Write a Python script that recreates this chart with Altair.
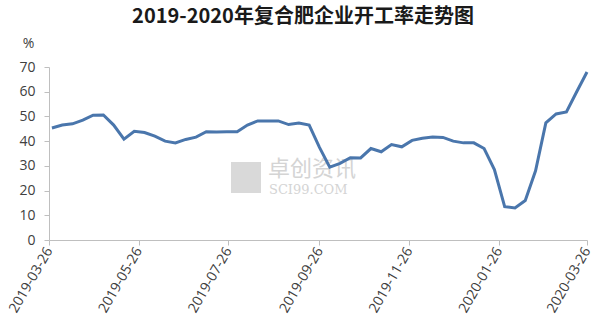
import altair as alt
import pandas as pd

# weekly dates (last one 2020-03-26)
end = pd.Timestamp("2020-03-26")
dates = [(end - pd.Timedelta(days=7 * (52 - i))).strftime("%Y-%m-%d") for i in range(53)]
values = [45.3, 46.5, 47.0, 48.5, 50.5, 50.6, 46.5, 40.8, 44.0, 43.5,
          42.0, 40.0, 39.3, 40.7, 41.6, 43.8, 43.7, 43.8, 43.8, 46.5,
          48.2, 48.2, 48.2, 46.7, 47.3, 46.5, 37.5, 29.5, 31.0, 33.3,
          33.2, 37.0, 35.7, 38.6, 37.7, 40.3, 41.2, 41.7, 41.5, 40.0,
          39.3, 39.3, 37.0, 28.5, 13.5, 13.0, 16.0, 28.0, 47.4, 51.0,
          51.8, 60.0, 68.0]
tick_dates = ["2019-03-26", "2019-05-26", "2019-07-26", "2019-09-26",
              "2019-11-26", "2020-01-26", "2020-03-26"]
y_ticks = [0, 10, 20, 30, 40, 50, 60, 70]

df = pd.DataFrame({"date": dates, "rate": values})

def dt(s):
    y, m, d = map(int, s.split("-"))
    return alt.DateTime(year=y, month=m, date=d, utc=True)

line = alt.Chart(df).mark_line(color="#4a76ac", strokeWidth=3).encode(
    x=alt.X("utcyearmonthdate(date):T",
            scale=alt.Scale(type="utc", domain=[dt(tick_dates[0]), dt(tick_dates[-1])]),
            axis=alt.Axis(values=[dt(s) for s in tick_dates], format="%Y-%m-%d",
                          labelAngle=-60, labelFontSize=14,
                          labelFont="Open Sans", labelColor="#404040",
                          domainColor="#bfbfbf", tickColor="#bfbfbf", tickSize=5,
                          labelPadding=3, grid=False, title=None)),
    y=alt.Y("rate:Q",
            scale=alt.Scale(domain=[0, 70]),
            axis=alt.Axis(values=y_ticks, labelFontSize=14, labelFont="Open Sans",
                          labelColor="#404040", domainColor="#bfbfbf",
                          tickColor="#bfbfbf", tickSize=5, grid=False,
                          labelPadding=9,
                          title="%", titleAngle=0, titleFontSize=14,
                          titleFont="Open Sans", titleFontWeight="normal",
                          titleColor="#404040", titleX=-21, titleY=-24,
                          titleAlign="center", titleBaseline="middle")),
)

wm1 = alt.Chart(pd.DataFrame({"t": ["卓创资讯"]})).mark_text(
    font="Noto Sans CJK SC", fontSize=22, color="#d4d4d4", align="left",
    baseline="middle").encode(x=alt.value(219), y=alt.value(102), text="t:N")
wm2 = alt.Chart(pd.DataFrame({"t": ["SCI99.COM"]})).mark_text(
    font="DejaVu Serif", fontSize=13, color="#d4d4d4", align="left",
    baseline="middle").encode(x=alt.value(220), y=alt.value(123), text="t:N")
logo = alt.Chart(pd.DataFrame({"a": [0]})).mark_rect(color="#d9d9d9").encode(
    x=alt.value(182), x2=alt.value(212), y=alt.value(95), y2=alt.value(126))

chart = alt.layer(logo, wm1, wm2, line).properties(
    width=538, height=173,
    title=alt.TitleParams("2019-2020年复合肥企业开工率走势图",
                          font="Noto Sans CJK SC", fontSize=20,
                          fontWeight="bold", color="#1a1a1a",
                          anchor="middle", dx=-15, dy=-5),
    autosize=alt.AutoSizeParams(type="none"),
    padding={"left": 49, "top": 67, "right": 13, "bottom": 94},
).configure_view(stroke=None)

chart.save("out.html", embed_options={"renderer": "svg", "actions": False})
